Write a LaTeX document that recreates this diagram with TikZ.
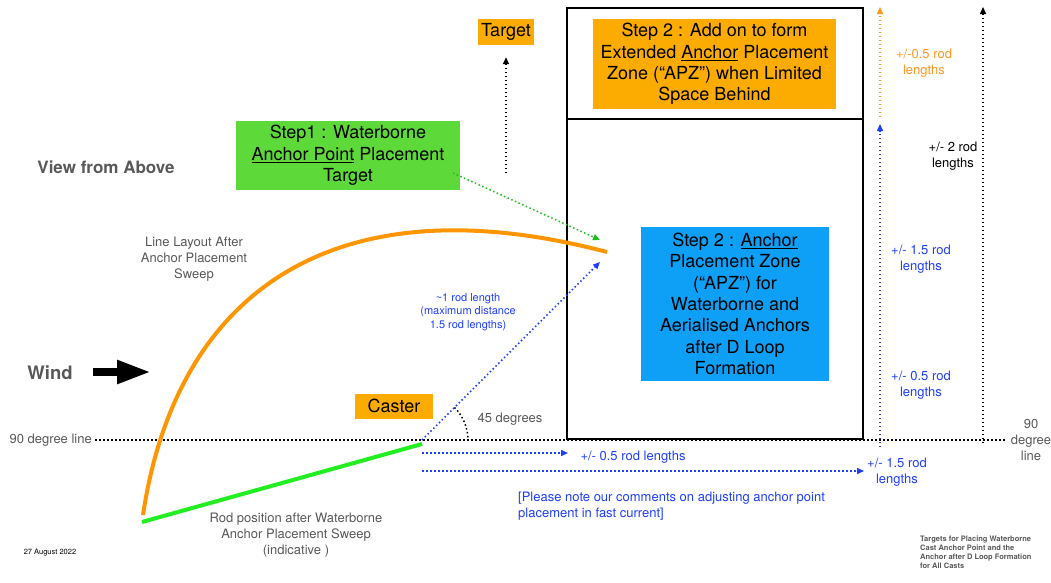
\documentclass[tikz,border=0pt]{standalone}
\usepackage{fontspec}
\setmainfont{TeX Gyre Heros}
\usetikzlibrary{arrows.meta}
\definecolor{boxgreen}{RGB}{94,217,58}
\definecolor{boxorange}{RGB}{252,172,0}
\definecolor{boxblue}{RGB}{14,160,246}
\definecolor{txtblue}{RGB}{30,62,255}
\definecolor{txtorange}{RGB}{255,150,30}
\definecolor{lineorange}{RGB}{255,149,0}
\definecolor{rodgreen}{RGB}{34,238,34}
\definecolor{txtgray}{RGB}{88,88,88}

\begin{document}
\begin{tikzpicture}[x=1pt,y=-1pt,
  bigtext/.style={font=\fontsize{18}{21.3}\selectfont,align=center,inner sep=0pt},
  smalltext/.style={font=\fontsize{13}{16}\selectfont,align=center,inner sep=0pt},
  dotline/.style={line width=1.5pt,dash pattern=on 1.5pt off 2.5pt},
  dotarrow/.style={dotline,-{Triangle[length=7pt,width=6pt]}}]
\useasboundingbox (0,0) rectangle (1051,582);
\node[font=\bfseries\fontsize{17}{20}\selectfont,text=txtgray] (view) at (106,167) {View from Above};
\node[bigtext,fill=boxgreen,minimum width=224pt,minimum height=69pt] (step1) at (348,155.5) {Step1 : Waterborne\\ \underline{Anchor Point} Placement\\ Target};
\node[bigtext,fill=boxorange,minimum width=56pt,minimum height=26pt] (target) at (506,32) {Target};
\node[bigtext,fill=boxorange,minimum width=243pt,minimum height=90pt] (step2x) at (714.5,64) {Step 2 : Add on to form\\ Extended \underline{Anchor} Placement\\ Zone (“APZ”) when Limited\\ Space Behind};
\node[bigtext,fill=boxblue,minimum width=188pt,minimum height=154pt] (step2) at (735,304) {Step 2 : \underline{Anchor}\\ Placement Zone\\ (“APZ”) for\\ Waterborne and\\ Aerialised Anchors\\ after D Loop\\ Formation};
\node[bigtext,fill=boxorange,minimum width=78pt,minimum height=25pt] (caster) at (394,406) {Caster};
\node[font=\bfseries\fontsize{18.5}{22}\selectfont,text=txtgray] (wind) at (50,373) {Wind};
\node[smalltext,text=txtgray,anchor=east] (degL) at (92,440) {90 degree line};
\node[smalltext,text=txtgray] (degR) at (1031,440) {90\\ degree\\ line};
\node[smalltext,text=txtgray] (layout) at (194,259) {Line Layout After\\ Anchor Placement\\ Sweep};
\node[smalltext,text=txtgray] (rodpos) at (296,535) {Rod position after Waterborne\\ Anchor Placement Sweep\\ (indicative )};
\node[smalltext,text=txtgray] (angle) at (510,419) {45 degrees};
\node[font=\fontsize{11}{13.3}\selectfont,align=center,inner sep=0pt,text=txtblue] (rodlen) at (468,312) {\textasciitilde1 rod length\\ (maximum distance\\ 1.5 rod lengths)};
\node[smalltext,text=txtblue] (halfrod) at (633,457) {+/- 0.5 rod lengths};
\node[smalltext,text=txtblue] (onehalf) at (897,472) {+/- 1.5 rod\\ lengths};
\node[smalltext,text=txtblue,align=left,anchor=west] (note) at (518,506) {[Please note our comments on adjusting anchor point\\ placement in fast current]};
\node[smalltext,text=txtorange] (extra) at (924,63) {+/-0.5 rod\\ lengths};
\node[smalltext] (tworod) at (953,156) {+/- 2 rod\\ lengths};
\node[smalltext,text=txtblue] (upper) at (921,259) {+/- 1.5 rod\\ lengths};
\node[smalltext,text=txtblue] (lower) at (921,385) {+/- 0.5 rod\\ lengths};
\node[font=\fontsize{7.5}{9}\selectfont,inner sep=0pt] (date) at (50,553) {27 August 2022};
\node[font=\bfseries\fontsize{7.5}{9}\selectfont,align=left,inner sep=0pt,text=txtgray,anchor=west] (title) at (920,552.5) {Targets for Placing Waterborne\\ Cast Anchor Point and the\\ Anchor after D Loop Formation\\ for All Casts};
\coordinate (zoneA) at (567,8);
\coordinate (zoneB) at (863,439);
\coordinate (zoneL) at (567,119);
\coordinate (zoneR) at (863,119);
\coordinate (cast) at (422,440);
\coordinate (rodbase) at (142,522);
\coordinate (rodtop) at (422,444);
\coordinate (linebase) at (143,515);
\coordinate (lineend) at (607,252);
\coordinate (apzin) at (600,262);
\coordinate (s1out) at (453,173);
\coordinate (s1in) at (600,240);
\coordinate (tgtfoot) at (506,173);
\coordinate (windtail) at (93,372);
\coordinate (windtip) at (151,372);
\coordinate (nearend) at (568,453);
\coordinate (farend) at (864,471);
\coordinate (blueA) at (880,447);
\coordinate (blueB) at (880,124);
\coordinate (orangeA) at (880,117);
\coordinate (orangeB) at (880,7);
\coordinate (blackA) at (983,443);
\coordinate (blackB) at (983,7);
\draw[line width=2pt] (zoneA) rectangle (zoneB);
\draw[line width=2pt] (zoneL) -- (zoneR);
\draw[dotline] ([xshift=3pt]degL.east) -- ([xshift=-4pt]degR.west);
\draw[lineorange,line width=4pt] (linebase) .. controls (175,300) and (325,178) .. (lineend);
\draw[rodgreen,line width=4pt] (rodbase) -- (rodtop);
\draw[line width=8pt,-{Triangle[length=34pt,width=22pt]}] (windtail) -- (windtip);
\draw[dotarrow] (tgtfoot) -- ([yshift=-12pt]target.south);
\draw[dotarrow,rodgreen!80!black] (s1out) -- (s1in);
\draw[dotarrow,txtblue] (cast) -- (apzin);
\draw[dotline] ([shift={(32.5,-32.5)}]cast) .. controls +(8.6,8.6) and +(0,-12.2) .. ([xshift=46pt]cast);
\draw[dotarrow,txtblue] ([yshift=-13pt]cast) -- (nearend);
\draw[dotarrow,txtblue] ([yshift=-31pt]cast) -- (farend);
\draw[dotarrow,txtblue] (blueA) -- (blueB);
\draw[dotarrow,txtorange] (orangeA) -- (orangeB);
\draw[dotarrow] (blackA) -- (blackB);
\end{tikzpicture}
\end{document}
